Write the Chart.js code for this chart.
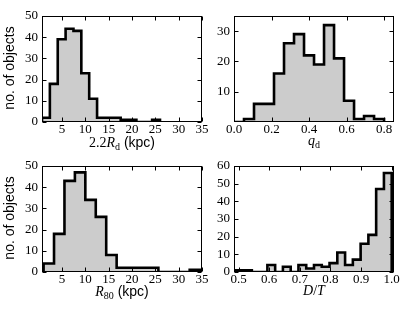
<!DOCTYPE html>
<html><head><meta charset="utf-8">
<script src="https://cdn.jsdelivr.net/npm/chart.js@4/dist/chart.umd.min.js"></script>
<style>
html,body{margin:0;padding:0;background:#fff;}
#wrap{position:relative;width:415px;height:312px;overflow:hidden;background:#fff;}
#wrap canvas{position:absolute;left:0;top:0;}
</style>
</head><body><div id="wrap"></div>
<script>
// ---- data (histogram ranges and bin counts) ----
const rdRange = [0.72, 26.0];
const rdCounts = [2, 18, 39, 44, 43, 23, 11, 2, 2, 2, 1, 1, 0, 0, 1];
const qdRange = [0.0, 0.8];
const qdCounts = [0, 1, 6, 6, 16, 26, 29, 22, 19, 32, 21, 7, 1, 2, 1];
const r80Range = [1.06, 34.6];
const r80Counts = [4, 18, 43, 47, 34, 26, 8, 2, 2, 2, 2, 0, 0, 0, 1];
const dtRange = [0.4925, 1.0];
const dtCounts = [1, 1, 0, 0, 4, 0, 3, 0, 4, 2, 4, 3, 5, 11, 4, 7, 16, 21, 47, 56];

// ---- axis limits and tick labels ----
const kpcLim = [0.72, 35];
const qdLim = [0.0, 0.853];
const dtLim = [0.485, 1.0075];
const kpcTicks = [5, 10, 15, 20, 25, 30, 35];
const qdTicks = [0.0, 0.2, 0.4, 0.6, 0.8];
const dtTicks = [0.5, 0.6, 0.7, 0.8, 0.9, 1.0];
const count50Lim = [0, 50];
const count35Lim = [0, 35];
const count60Lim = [0, 60];
const count50Ticks = [0, 10, 20, 30, 40, 50];
const count35Ticks = [10, 20, 30];
const count60Ticks = [0, 10, 20, 30, 40, 50, 60];
const yTitle = 'no. of objects';

const W = 415, H = 312;
const SERIF = "'Liberation Serif','DejaVu Serif',serif";
const SANS = "'Liberation Sans',Arial,sans-serif";
const F_SERIF = '14px ' + SERIF;
const F_ISERIF = 'italic 14px ' + SERIF;
const F_SUB = '10px ' + SERIF;
const F_SANS = '14px ' + SANS;

function stepPoints(range, counts) {
  const n = counts.length, w = (range[1] - range[0]) / n;
  const pts = [{x: range[0], y: 0}];
  counts.forEach((c, i) => {
    pts.push({x: range[0] + i * w, y: c});
    pts.push({x: range[0] + (i + 1) * w, y: c});
  });
  pts.push({x: range[1], y: 0});
  return pts;
}

function decorPlugin(cfg) {
  return {
    id: 'decor',
    afterDatasetsDraw(chart) {
      const ctx = chart.ctx, a = chart.chartArea;
      const xs = chart.scales.x, ys = chart.scales.y;
      ctx.save();
      ctx.strokeStyle = '#000';
      ctx.lineWidth = 1;
      const L = Math.round(a.left) + 0.5, R = Math.round(a.right) - 0.5;
      const T = Math.round(a.top) + 0.5, B = Math.round(a.bottom) - 0.5;
      ctx.strokeRect(L, T, R - L, B - T);
      const tl = 4;
      ctx.beginPath();
      cfg.xTicks.forEach(v => {
        const px = Math.round(xs.getPixelForValue(v)) + 0.5;
        ctx.moveTo(px, B); ctx.lineTo(px, B - tl);
        ctx.moveTo(px, T); ctx.lineTo(px, T + tl);
      });
      cfg.yTicks.forEach(v => {
        const py = Math.round(ys.getPixelForValue(v)) + 0.5;
        ctx.moveTo(L, py); ctx.lineTo(L + tl, py);
        ctx.moveTo(R, py); ctx.lineTo(R - tl, py);
      });
      ctx.stroke();
      // x-axis title (mixed fonts)
      ctx.fillStyle = '#000';
      ctx.textBaseline = 'alphabetic';
      ctx.textAlign = 'left';
      let total = 0;
      const runs = cfg.xTitle.map(r => {
        ctx.font = r[1];
        const w = ctx.measureText(r[0]).width;
        total += w;
        return {t: r[0], f: r[1], s: r[2] || 0, w};
      });
      let x = (a.left + a.right) / 2 - total / 2;
      const y = a.bottom + cfg.titleDy;
      runs.forEach(r => {
        ctx.font = r.f;
        ctx.fillText(r.t, x, y + r.s);
        x += r.w;
      });
      if (cfg.showY) {
        ctx.translate(10, (a.top + a.bottom) / 2 - 1);
        ctx.rotate(-Math.PI / 2);
        ctx.font = F_SANS;
        ctx.textAlign = 'center';
        ctx.textBaseline = 'middle';
        ctx.fillText(yTitle, 0, 0);
      }
      ctx.restore();
    }
  };
}

function makePanel(cfg) {
  const c = document.createElement('canvas');
  c.width = W; c.height = H;
  c.style.width = W + 'px'; c.style.height = H + 'px';
  document.getElementById('wrap').appendChild(c);
  const YW = 30, XH = 20;
  const box = cfg.box;
  new Chart(c, {
    type: 'line',
    data: {datasets: [{
      data: stepPoints(cfg.range, cfg.counts),
      borderColor: '#000',
      borderWidth: 2.6,
      backgroundColor: '#cccccc',
      fill: 'origin',
      pointRadius: 0,
      tension: 0,
      borderJoinStyle: 'miter',
      borderCapStyle: 'butt'
    }]},
    options: {
      responsive: false,
      animation: false,
      devicePixelRatio: 1,
      events: [],
      layout: {padding: {left: box[0] - YW, top: box[1], right: W - box[2], bottom: H - box[3] - XH}},
      plugins: {legend: {display: false}, tooltip: {enabled: false}, title: {display: false}},
      scales: {
        x: {
          type: 'linear', min: cfg.xLim[0], max: cfg.xLim[1],
          afterBuildTicks: s => { s.ticks = cfg.xTicks.map(v => ({value: v})); },
          afterFit: s => { s.height = XH; },
          grid: {display: false, drawTicks: false},
          border: {display: false},
          ticks: {color: '#000', font: {family: SERIF, size: 13}, padding: 0, maxRotation: 0, autoSkip: false,
                  callback: v => cfg.xFmt(v)}
        },
        y: {
          type: 'linear', min: cfg.yLim[0], max: cfg.yLim[1],
          afterBuildTicks: s => { s.ticks = cfg.yTicks.map(v => ({value: v})); },
          afterFit: s => { s.width = YW; },
          grid: {display: false, drawTicks: false},
          border: {display: false},
          ticks: {color: '#000', font: {family: SERIF, size: 13}, padding: 4, autoSkip: false,
                  callback: v => String(v)}
        }
      }
    },
    plugins: [decorPlugin(cfg)]
  });
}

const intFmt = v => String(v);
const oneFmt = v => Number(v).toFixed(1);

makePanel({box: [42, 16, 202, 122], range: rdRange, counts: rdCounts, xLim: kpcLim, yLim: count50Lim,
  xTicks: kpcTicks, yTicks: count50Ticks, xFmt: intFmt, showY: true, titleDy: 25,
  xTitle: [['2.2', F_SERIF], ['R', F_ISERIF], ['d', F_SUB, 3], [' (kpc)', F_SANS]]});
makePanel({box: [234, 16, 394, 122], range: qdRange, counts: qdCounts, xLim: qdLim, yLim: count35Lim,
  xTicks: qdTicks, yTicks: count35Ticks, xFmt: oneFmt, showY: false, titleDy: 23,
  xTitle: [['q', F_ISERIF], ['d', F_SUB, 3]]});
makePanel({box: [42, 166, 202, 272], range: r80Range, counts: r80Counts, xLim: kpcLim, yLim: count50Lim,
  xTicks: kpcTicks, yTicks: count50Ticks, xFmt: intFmt, showY: true, titleDy: 24,
  xTitle: [['R', F_ISERIF], ['80', F_SUB, 3], [' (kpc)', F_SANS]]});
makePanel({box: [234, 166, 394, 272], range: dtRange, counts: dtCounts, xLim: dtLim, yLim: count60Lim,
  xTicks: dtTicks, yTicks: count60Ticks, xFmt: oneFmt, showY: false, titleDy: 23,
  xTitle: [['D', F_ISERIF], ['/', F_SERIF], ['T', F_ISERIF]]});
</script>
</body></html>
